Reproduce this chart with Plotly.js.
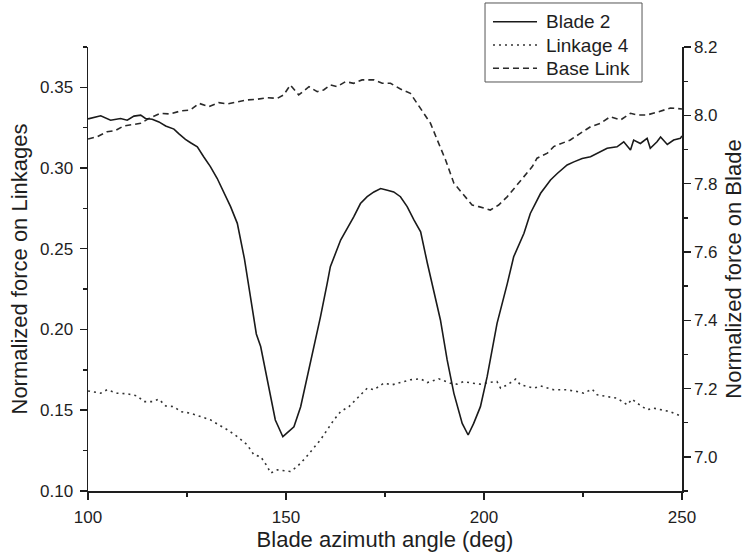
<!DOCTYPE html>
<html>
<head>
<meta charset="utf-8">
<script src="https://cdn.plot.ly/plotly-3.0.1.min.js"></script>
<style>html,body{margin:0;padding:0;background:#fff;}#chart{width:746px;height:555px;}</style>
</head>
<body>
<div id="chart"></div>
<script>
// Blade 2 (right axis: Normalized force on Blade)
const bladeAngle = [100,103.2,105.7,108.2,109.9,111.6,113.3,114.5,116.2,117.9,119.6,121.7,122.9,124.6,125.9,127.6,129.2,130.9,132.6,134.3,136.0,137.7,139.5,141.0,142.5,143.6,145.3,146.9,147.3,149.2,152.0,153.7,156.2,158.7,160.4,161.2,163.8,165.5,167.1,168.8,170.5,172.2,173.9,175.6,177.2,178.9,180.6,182.3,184.0,185.7,187.3,189.0,190.7,192.4,194.5,196.0,197.4,199.1,200.8,203.3,205.9,207.5,210.1,211.7,214.3,216.8,218.5,221.0,222.7,224.8,226.9,229.4,231.1,233.6,235.3,237.0,237.8,239.5,241.2,242.0,243.7,244.6,246.3,247.9,249.6,250];
const bladeForce = [7.99,7.999,7.986,7.991,7.986,7.998,8.001,7.991,7.989,7.981,7.969,7.960,7.947,7.930,7.920,7.908,7.879,7.850,7.816,7.776,7.733,7.684,7.58,7.47,7.36,7.323,7.225,7.128,7.108,7.059,7.088,7.147,7.275,7.410,7.508,7.557,7.635,7.669,7.703,7.742,7.762,7.776,7.786,7.781,7.776,7.762,7.733,7.694,7.659,7.567,7.489,7.401,7.284,7.186,7.098,7.064,7.098,7.147,7.235,7.391,7.508,7.586,7.655,7.713,7.772,7.811,7.830,7.855,7.864,7.874,7.879,7.894,7.904,7.908,7.923,7.899,7.928,7.918,7.933,7.904,7.923,7.937,7.915,7.928,7.933,7.94];

// Linkage 4 (left axis)
const link4Angle = [100,103.2,104.8,107.4,109.9,112.4,114.1,116.2,117.9,119.6,121.7,123.4,125.9,128.4,130.9,133.0,135.2,137.7,140.2,141.9,143.6,145.3,146.1,147.8,151.1,152.8,154.9,156.6,158.7,160.4,162.1,163.8,165.9,167.6,169.2,170.5,172.2,174.7,176.8,178.9,181.4,184.0,185.7,188.6,191.5,193.2,194.9,197.0,199.1,201.2,203.3,204.2,205.9,208.0,209.2,212.6,214.3,217.6,221.0,223.5,225.2,227.3,228.6,231.1,233.6,236.2,237.4,238.7,241.2,242.9,244.6,247.1,250];
const link4Force = [0.1619,0.1605,0.1626,0.1605,0.1601,0.1588,0.1553,0.1553,0.1568,0.1526,0.1522,0.1491,0.1481,0.1460,0.1440,0.1409,0.1378,0.1336,0.1285,0.1223,0.1212,0.1150,0.1110,0.1130,0.1120,0.1150,0.1203,0.1254,0.1316,0.1378,0.1440,0.1491,0.1522,0.1564,0.1605,0.1636,0.1626,0.1667,0.1657,0.1672,0.1688,0.1694,0.1671,0.1694,0.1667,0.1661,0.1677,0.1667,0.1661,0.1671,0.1677,0.1636,0.1657,0.1692,0.1657,0.1636,0.1650,0.1626,0.1626,0.1615,0.1605,0.1630,0.1595,0.1584,0.1574,0.1533,0.1568,0.1543,0.1502,0.1512,0.1502,0.1490,0.1460];

// Base Link (left axis)
const baseAngle = [100,102.3,104.8,106.9,109.0,111.6,113.3,115.4,118.3,120.8,123.4,125.9,128.0,130.5,133.0,135.2,137.7,140.2,142.7,145.3,147.8,149.4,151.1,153.2,155.8,157.9,159.5,161.2,162.9,165.0,167.1,169.2,172.2,174.3,176.4,178.9,181.4,183.1,184.4,186.5,188.2,190.3,192.4,194.5,197.0,198.7,201.6,203.7,205.9,208.0,210.1,212.2,213.4,216.0,217.6,219.7,221.8,224.4,226.9,229.4,231.9,234.5,237.0,238.7,241.2,244.1,247.1,250];
const baseForce = [0.3180,0.3194,0.3225,0.3232,0.3261,0.3273,0.3277,0.3308,0.3339,0.3335,0.3354,0.3360,0.3401,0.3380,0.3405,0.3397,0.3408,0.3422,0.3426,0.3436,0.3432,0.3453,0.3515,0.3453,0.3504,0.3473,0.3484,0.3515,0.3504,0.3535,0.3525,0.3546,0.3546,0.3525,0.3525,0.3490,0.3463,0.3401,0.3349,0.3277,0.3174,0.3050,0.2906,0.2844,0.2771,0.2761,0.2740,0.2771,0.2823,0.2885,0.2947,0.3009,0.3061,0.3092,0.3133,0.3154,0.3174,0.3216,0.3256,0.3277,0.3318,0.3298,0.3339,0.3329,0.3329,0.3349,0.3372,0.3366];

const seriesNames = ['Blade 2', 'Linkage 4', 'Base Link'];

const FONT = '"Liberation Sans", Arial, sans-serif';
const INK = '#1e1e1e';

const styles = [
  {color: '#1a1a1a', width: 1.6, dash: 'solid'},
  {color: '#333', width: 1.6, dash: '2px,4px'},
  {color: '#2a2a2a', width: 1.6, dash: '6px,4px'}
];

const traces = [
  {x: bladeAngle, y: bladeForce, yaxis: 'y2', name: seriesNames[0], mode: 'lines', line: styles[0]},
  {x: link4Angle, y: link4Force, yaxis: 'y', name: seriesNames[1], mode: 'lines', line: styles[1]},
  {x: baseAngle, y: baseForce, yaxis: 'y', name: seriesNames[2], mode: 'lines', line: styles[2]}
];

// Legend box drawn in paper coordinates (Origin-style legend)
const legX0 = 0.6684, legX1 = 0.9327, legY0 = 0.9212, legY1 = 1.0991;
const rowY = [1.0570, 1.0045, 0.9520];
const shapes = [{type: 'rect', xref: 'paper', yref: 'paper', x0: legX0, x1: legX1, y0: legY0, y1: legY1,
  line: {color: '#555', width: 1}, fillcolor: '#fff', layer: 'above'}];
const annotations = [];
seriesNames.forEach((n, i) => {
  shapes.push({type: 'line', xref: 'paper', yref: 'paper', x0: 0.6818, x1: 0.7559, y0: rowY[i], y1: rowY[i],
    line: {color: styles[i].color, width: styles[i].width, dash: styles[i].dash}, layer: 'above'});
  annotations.push({xref: 'paper', yref: 'paper', x: 0.7685, y: rowY[i], xanchor: 'left', yanchor: 'middle',
    text: n, showarrow: false, font: {family: FONT, size: 19, color: INK}});
});

const axisCommon = {
  showgrid: false, zeroline: false, showline: true, linecolor: INK, linewidth: 1.5,
  ticks: 'outside', ticklen: 7, tickwidth: 1.5, tickcolor: INK,
  tickfont: {family: FONT, size: 17, color: INK}
};

const layout = {
  width: 746, height: 555,
  paper_bgcolor: '#fff', plot_bgcolor: '#fff',
  margin: {l: 88, r: 64, t: 47, b: 64},
  font: {family: FONT, color: INK},
  showlegend: false,
  shapes: shapes,
  annotations: annotations,
  xaxis: Object.assign({}, axisCommon, {
    range: [99.99, 250.01], dtick: 50, tick0: 100, ticklabelstandoff: 3,
    minor: {dtick: 25, ticks: 'outside', ticklen: 4, tickwidth: 1.5, tickcolor: INK, showgrid: false},
    title: {text: 'Blade azimuth angle (deg)', font: {family: FONT, size: 22, color: INK}, standoff: 5}
  }),
  yaxis: Object.assign({}, axisCommon, {
    range: [0.0999, 0.375], dtick: 0.05, tick0: 0.1, tickformat: '.2f', ticklabelstandoff: 3,
    minor: {dtick: 0.025, ticks: 'outside', ticklen: 4, tickwidth: 1.5, tickcolor: INK, showgrid: false},
    title: {text: 'Normalized force on Linkages', font: {family: FONT, size: 22, color: INK}, standoff: 6}
  }),
  yaxis2: Object.assign({}, axisCommon, {
    overlaying: 'y', side: 'right', anchor: 'x',
    range: [6.9, 8.2005], dtick: 0.2, tick0: 7.0, tickformat: '.1f',
    minor: {dtick: 0.1, ticks: 'outside', ticklen: 4, tickwidth: 1.5, tickcolor: INK, showgrid: false},
    title: {text: 'Normalized force on Blade', font: {family: FONT, size: 22, color: INK}, standoff: 10}
  })
};

Plotly.newPlot('chart', traces, layout, {displayModeBar: false, staticPlot: true});
</script>
</body>
</html>
